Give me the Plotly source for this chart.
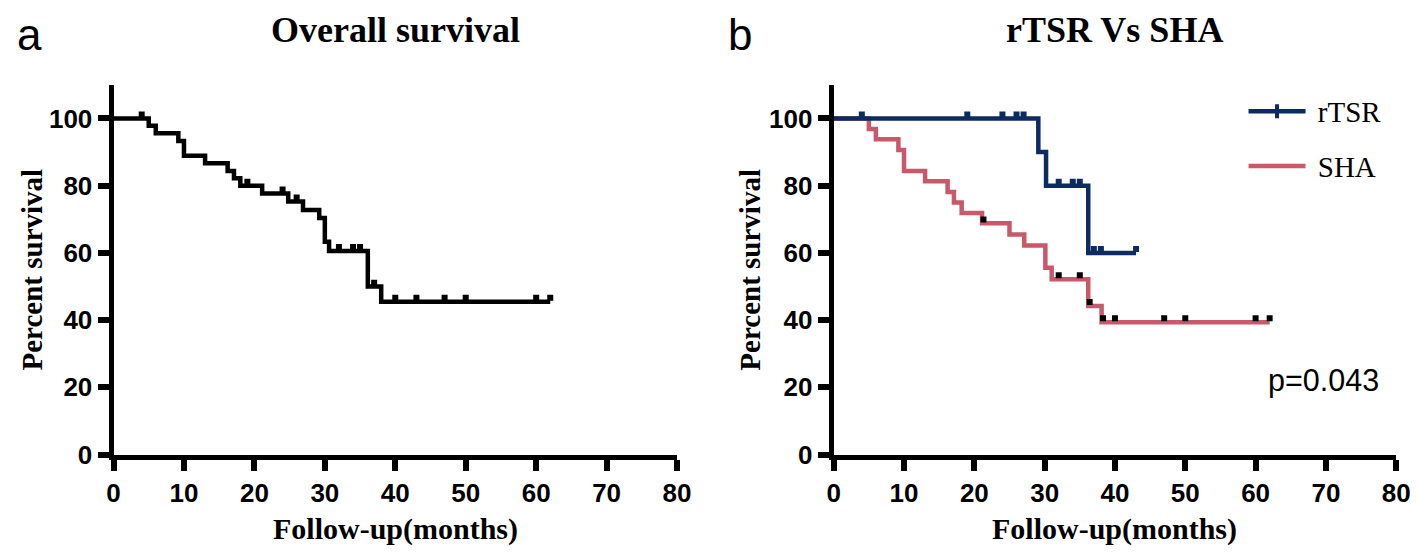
import plotly.graph_objects as go

W, H = 1418, 554

# ---------------- data ----------------
# Panel a: overall survival (Kaplan-Meier steps)
os_time = [0, 5, 6, 9.2, 10, 13, 16.2, 17.1, 18, 21.1, 24.8, 26.9, 29.2, 30, 30.6, 36.1, 38, 62]
os_surv = [100, 97.8, 95.6, 93.3, 88.9, 86.7, 84.4, 82.2, 80.0, 77.7, 75.3, 72.8, 70.4, 63.3, 60.6, 50.0, 45.5, 45.5]
os_cens_time = [4, 19, 24, 26, 32, 34, 35, 37, 40, 43, 47, 50, 60, 62]
os_cens_surv = [100, 80.0, 77.7, 75.3, 60.6, 60.6, 60.6, 50.0, 45.5, 45.5, 45.5, 45.5, 45.5, 45.5]

# Panel b: rTSR vs SHA
rtsr_time = [0, 29.1, 30.2, 36.2, 43]
rtsr_surv = [100, 90, 80, 60, 60]
rtsr_cens_time = [4, 19, 24, 26, 27, 32, 34, 35, 37, 38, 43]
rtsr_cens_surv = [100, 100, 100, 100, 100, 80, 80, 80, 60, 60, 60]

sha_time = [0, 5, 6, 9.2, 10, 13, 16.2, 17.1, 18.2, 21.1, 25, 27.1, 30.1, 31, 36.2, 38.1, 62]
sha_surv = [100, 96.9, 93.8, 90.6, 84.4, 81.3, 78.1, 75.0, 71.9, 68.8, 65.5, 62.2, 55.6, 52.2, 44.2, 39.4, 39.4]
sha_cens_time = [21.3, 32, 35, 36.4, 38.3, 40, 47, 50, 60, 62]
sha_cens_surv = [68.8, 52.2, 52.2, 44.2, 39.4, 39.4, 39.4, 39.4, 39.4, 39.4]

x_ticks = [0, 10, 20, 30, 40, 50, 60, 70, 80]
y_ticks = [0, 20, 40, 60, 80, 100]

NAVY = "#0c2b5f"
PINK = "#c9596a"

# ---------------- layout helpers (pixel -> paper) ----------------
def px_x(p):
    return p / W

def px_y(p):
    return 1 - p / H

xa_dom = [px_x(100), px_x(672)]
xb_dom = [px_x(831), px_x(1402)]
y_dom = [px_y(459), px_y(79)]
shift = 4 / H
yc_dom = [y_dom[0] + shift, y_dom[1] + shift]

fig = go.Figure()

LW = 4.5
# Panel a
fig.add_trace(go.Scatter(x=os_time, y=os_surv, mode="lines", line=dict(color="black", width=LW, shape="hv"),
                         xaxis="x", yaxis="y", showlegend=False))
fig.add_trace(go.Scatter(x=os_cens_time, y=os_cens_surv, mode="markers",
                         marker=dict(symbol="square", size=6, color="black", line=dict(width=0)),
                         xaxis="x", yaxis="y3", showlegend=False))
# Panel b
fig.add_trace(go.Scatter(x=sha_time, y=sha_surv, mode="lines", line=dict(color=PINK, width=LW, shape="hv"),
                         xaxis="x2", yaxis="y2", showlegend=False))
fig.add_trace(go.Scatter(x=rtsr_time, y=rtsr_surv, mode="lines", line=dict(color=NAVY, width=LW, shape="hv"),
                         xaxis="x2", yaxis="y2", showlegend=False))
fig.add_trace(go.Scatter(x=sha_cens_time, y=sha_cens_surv, mode="markers",
                         marker=dict(symbol="square", size=6, color="black", line=dict(width=0)),
                         xaxis="x2", yaxis="y4", showlegend=False))
fig.add_trace(go.Scatter(x=rtsr_cens_time, y=rtsr_cens_surv, mode="markers",
                         marker=dict(symbol="square", size=6, color=NAVY, line=dict(width=0)),
                         xaxis="x2", yaxis="y4", showlegend=False))
# legend entries
fig.add_trace(go.Scatter(x=[None], y=[None], mode="lines+markers", name="\u00a0rTSR",
                         line=dict(color=NAVY, width=LW),
                         marker=dict(symbol="line-ns", size=10, color=NAVY, line=dict(color=NAVY, width=4)),
                         xaxis="x2", yaxis="y2", legendgroup="a"))
fig.add_trace(go.Scatter(x=[None], y=[None], mode="lines", name="\u00a0SHA",
                         line=dict(color=PINK, width=LW),
                         xaxis="x2", yaxis="y2", legendgroup="b"))

tickfont = dict(family="Liberation Sans", size=26, color="black", weight="bold")
common_x = dict(range=[0, 80], tickvals=x_ticks, showline=True, linecolor="black", linewidth=5,
                ticks="outside", ticklen=11, tickwidth=5.5, tickcolor="black", showgrid=False,
                zeroline=False, tickfont=tickfont, fixedrange=True)
common_y = dict(range=[0, 110], tickvals=y_ticks, showline=True, linecolor="black", linewidth=5,
                ticks="outside", ticklen=11, tickwidth=5.5, tickcolor="black", showgrid=False,
                zeroline=False, tickfont=tickfont, fixedrange=True, domain=y_dom)

fig.update_layout(
    width=W, height=H, margin=dict(l=0, r=0, t=0, b=0),
    paper_bgcolor="white", plot_bgcolor="rgba(0,0,0,0)",
    xaxis=dict(domain=xa_dom, anchor="y", **common_x),
    yaxis=dict(anchor="x", **common_y),
    xaxis2=dict(domain=xb_dom, anchor="y2", **common_x),
    yaxis2=dict(anchor="x2", **common_y),
    yaxis3=dict(range=[0, 110], domain=yc_dom, anchor="x", visible=False, fixedrange=True),
    yaxis4=dict(range=[0, 110], domain=yc_dom, anchor="x2", visible=False, fixedrange=True),
    legend=dict(x=px_x(1247), y=px_y(80), xanchor="left", yanchor="top", tracegroupgap=14,
                font=dict(family="Liberation Serif", size=29, color="black"),
                bgcolor="rgba(0,0,0,0)", itemwidth=57),
    showlegend=True,
)

serif_b = dict(family="Liberation Serif", size=36, color="black", weight="bold")
axt = dict(family="Liberation Serif", size=30, color="black", weight="bold")
yt = dict(family="Liberation Serif", size=29, color="black", weight="bold")
ann = [
    dict(text="Overall survival", x=(xa_dom[0] + xa_dom[1]) / 2, y=px_y(23), font=serif_b),
    dict(text="rTSR Vs SHA", x=(xb_dom[0] + xb_dom[1]) / 2, y=px_y(23), font=serif_b),
    dict(text="Follow-up(months)", x=(xa_dom[0] + xa_dom[1]) / 2, y=px_y(536), font=axt),
    dict(text="Follow-up(months)", x=(xb_dom[0] + xb_dom[1]) / 2, y=px_y(536), font=axt),
    dict(text="Percent survival", x=px_x(17), y=(y_dom[0] + y_dom[1]) / 2, textangle=-90, font=yt),
    dict(text="Percent survival", x=px_x(746), y=(y_dom[0] + y_dom[1]) / 2, textangle=-90, font=yt),
    dict(text="p=0.043", x=px_x(1328), y=px_y(383),
         font=dict(family="Liberation Sans", size=30.5, color="black")),
]
for a in ann:
    a.update(xanchor="center", yanchor="middle")
ann += [
    dict(text="a", x=0, y=1, xanchor="left", yanchor="top",
         font=dict(family="Liberation Sans", size=44, color="black")),
    dict(text="b", x=px_x(722), y=1, xanchor="left", yanchor="top",
         font=dict(family="Liberation Sans", size=44, color="black")),
]
for a in ann:
    a.update(xref="paper", yref="paper", showarrow=False)
fig.update_layout(annotations=ann)

fig.write_html("out.html")
